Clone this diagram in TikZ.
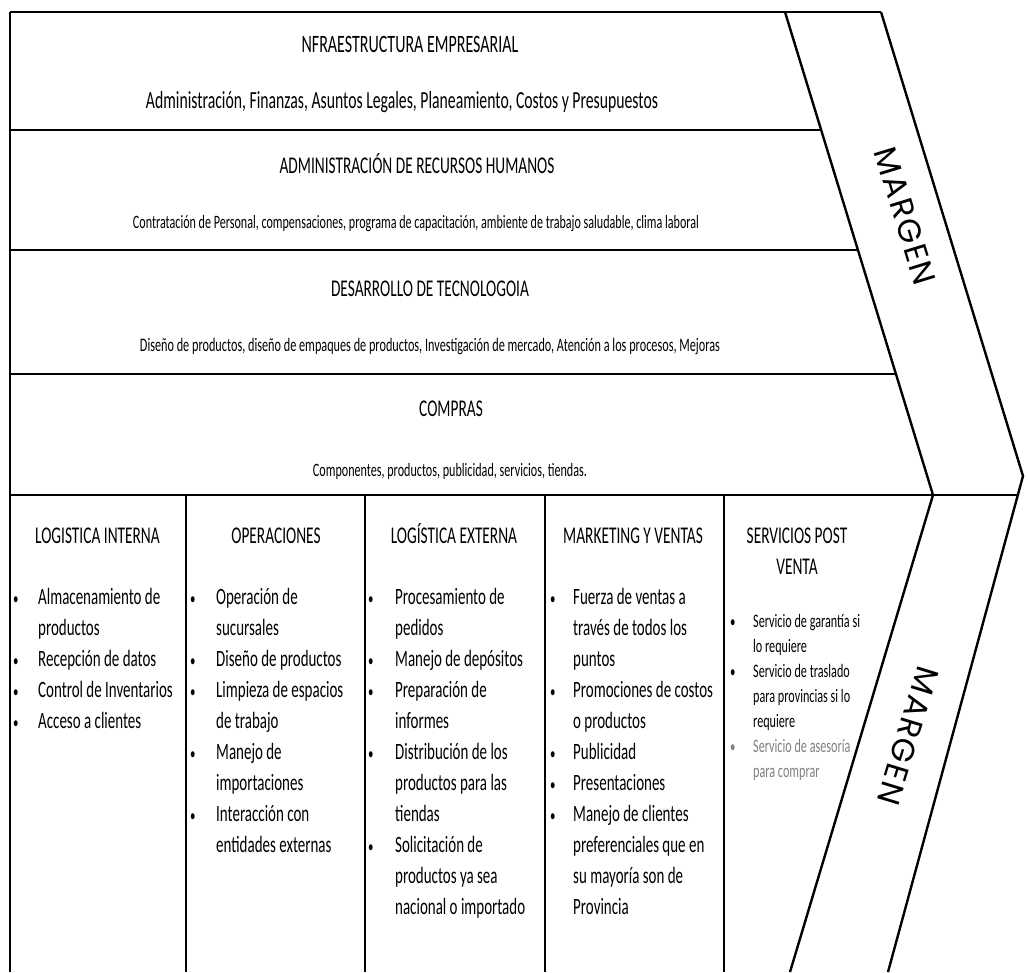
\documentclass[tikz,border=0pt]{standalone}
\usepackage{fontspec}
\setmainfont{Carlito}[FakeStretch=0.64]
\newfontfamily\margenfont{Poppins}[LetterSpace=6]
\begin{document}
\begin{tikzpicture}[x=1pt,y=-1pt,
  frame/.style={line width=2.4pt,black},
  hline/.style={line width=2.8pt,black},
  hd/.style={inner sep=0,font=\fontsize{24}{29}\selectfont,anchor=base},
  det/.style={inner sep=0,anchor=base},
  pt/.style={inner sep=0,font=\fontsize{23.4}{28}\selectfont,anchor=base west},
  ps/.style={inner sep=0,font=\fontsize{19}{23}\selectfont,anchor=base west},
  bul/.style={inner sep=0,font=\fontsize{17}{20}\selectfont,anchor=base west},
  mg/.style={inner sep=0,font=\margenfont\fontsize{32}{38}\selectfont}]
\useasboundingbox (0,0) rectangle (1028,972);
\fill[white] (0,0) rectangle (1028,972);
% frame and chevrons
\draw[frame] (10,972) -- (10,12);
\draw[hline] (10,12) -- (881,12);
\draw[frame] (785,12) -- (933,495) -- (790,972);
\draw[frame] (881,12) -- (1023,476) -- (888,972);
\draw[hline] (10,130) -- (821,130);
\draw[hline] (10,250) -- (858,250);
\draw[hline] (10,374) -- (896,374);
\draw[hline] (10,495) -- (1019,495);
\foreach \x in {186,365,545,724} \draw[frame] (\x,495) -- (\x,972);
% support activities
\node[hd,font=\fontsize{25}{30}\selectfont] (infra) at (410,52) {NFRAESTRUCTURA EMPRESARIAL};
\node[det] (infrad) at (402,108) {\resizebox{512pt}{!}{\fontsize{24}{29}\selectfont Administración, Finanzas, Asuntos Legales, Planeamiento, Costos y Presupuestos}};
\node[hd] (rrhh) at (417,173) {ADMINISTRACIÓN DE RECURSOS HUMANOS};
\node[det] (rrhhd) at (416,228) {\resizebox{566pt}{!}{\fontsize{19.5}{23}\selectfont Contratación de Personal, compensaciones, programa de capacitación, ambiente de trabajo saludable, clima laboral}};
\node[hd] (tec) at (430,296) {DESARROLLO DE TECNOLOGOIA};
\node[det] (tecd) at (430,351) {\resizebox{580pt}{!}{\fontsize{20}{24}\selectfont Diseño de productos, diseño de empaques de productos, Investigación de mercado, Atención a los procesos, Mejoras}};
\node[hd] (comp) at (451,416) {COMPRAS};
\node[det] (compd) at (450,476) {\resizebox{274pt}{!}{\fontsize{18}{22}\selectfont Componentes, productos, publicidad, servicios, tiendas.}};
% primary headers
\node[hd] (h1) at (97.5,543) {LOGISTICA INTERNA};
\node[hd] (h2) at (276,543) {OPERACIONES};
\node[hd] (h3) at (454,543) {LOGÍSTICA EXTERNA};
\node[hd] (h4) at (633,543) {MARKETING Y VENTAS};
\node[hd] (h5a) at (797,543) {SERVICIOS POST};
\node[hd] (h5b) at (797,574) {VENTA};
% column 1
\foreach \t [count=\i] in {Almacenamiento de,productos,Recepción de datos,Control de Inventarios,Acceso a clientes}
  \node[pt] (a\i) at (38,{604+31*(\i-1)}) {\t};
\foreach \i in {1,3,4,5} \node[bul] (ab\i) at (13,{604+31*(\i-1)}) {•};
% column 2
\foreach \t [count=\i] in {Operación de,sucursales,Diseño de productos,Limpieza de espacios,de trabajo,Manejo de,importaciones,Interacción con,entidades externas}
  \node[pt] (b\i) at (216,{604+31*(\i-1)}) {\t};
\foreach \i in {1,3,4,6,8} \node[bul] (bb\i) at (190,{604+31*(\i-1)}) {•};
% column 3
\foreach \t [count=\i] in {Procesamiento de,pedidos,Manejo de depósitos,Preparación de,informes,Distribución de los,productos para las,tiendas,Solicitación de,productos ya sea,nacional o importado}
  \node[pt] (c\i) at (395,{604+31*(\i-1)}) {\t};
\foreach \i in {1,3,4,6,9} \node[bul] (cb\i) at (368,{604+31*(\i-1)}) {•};
% column 4
\foreach \t [count=\i] in {Fuerza de ventas a,través de todos los,puntos,Promociones de costos,o productos,Publicidad,Presentaciones,Manejo de clientes,preferenciales que en,su mayoría son de,Provincia}
  \node[pt] (d\i) at (573,{604+31*(\i-1)}) {\t};
\foreach \i in {1,4,6,7,8} \node[bul] (db\i) at (550,{604+31*(\i-1)}) {•};
% column 5
\foreach \t [count=\i] in {Servicio de garantía si,lo requiere,Servicio de traslado,para provincias si lo,requiere}
  \node[ps] (e\i) at (753,{627+25*(\i-1)}) {\t};
\node[ps,text=black!50] (e6) at (753,752) {Servicio de asesoría};
\node[ps,text=black!50] (e7) at (753,777) {para comprar};
\node[bul] (eb1) at (730,627) {•};
\node[bul] (eb3) at (730,677) {•};
\node[bul,text=black!50] (eb6) at (730,752) {•};
% margins
\node[mg,rotate=-73] (m1) at (905,216) {MARGEN};
\node[mg,rotate=-107] (m2) at (908,736) {MARGEN};
\end{tikzpicture}
\end{document}
